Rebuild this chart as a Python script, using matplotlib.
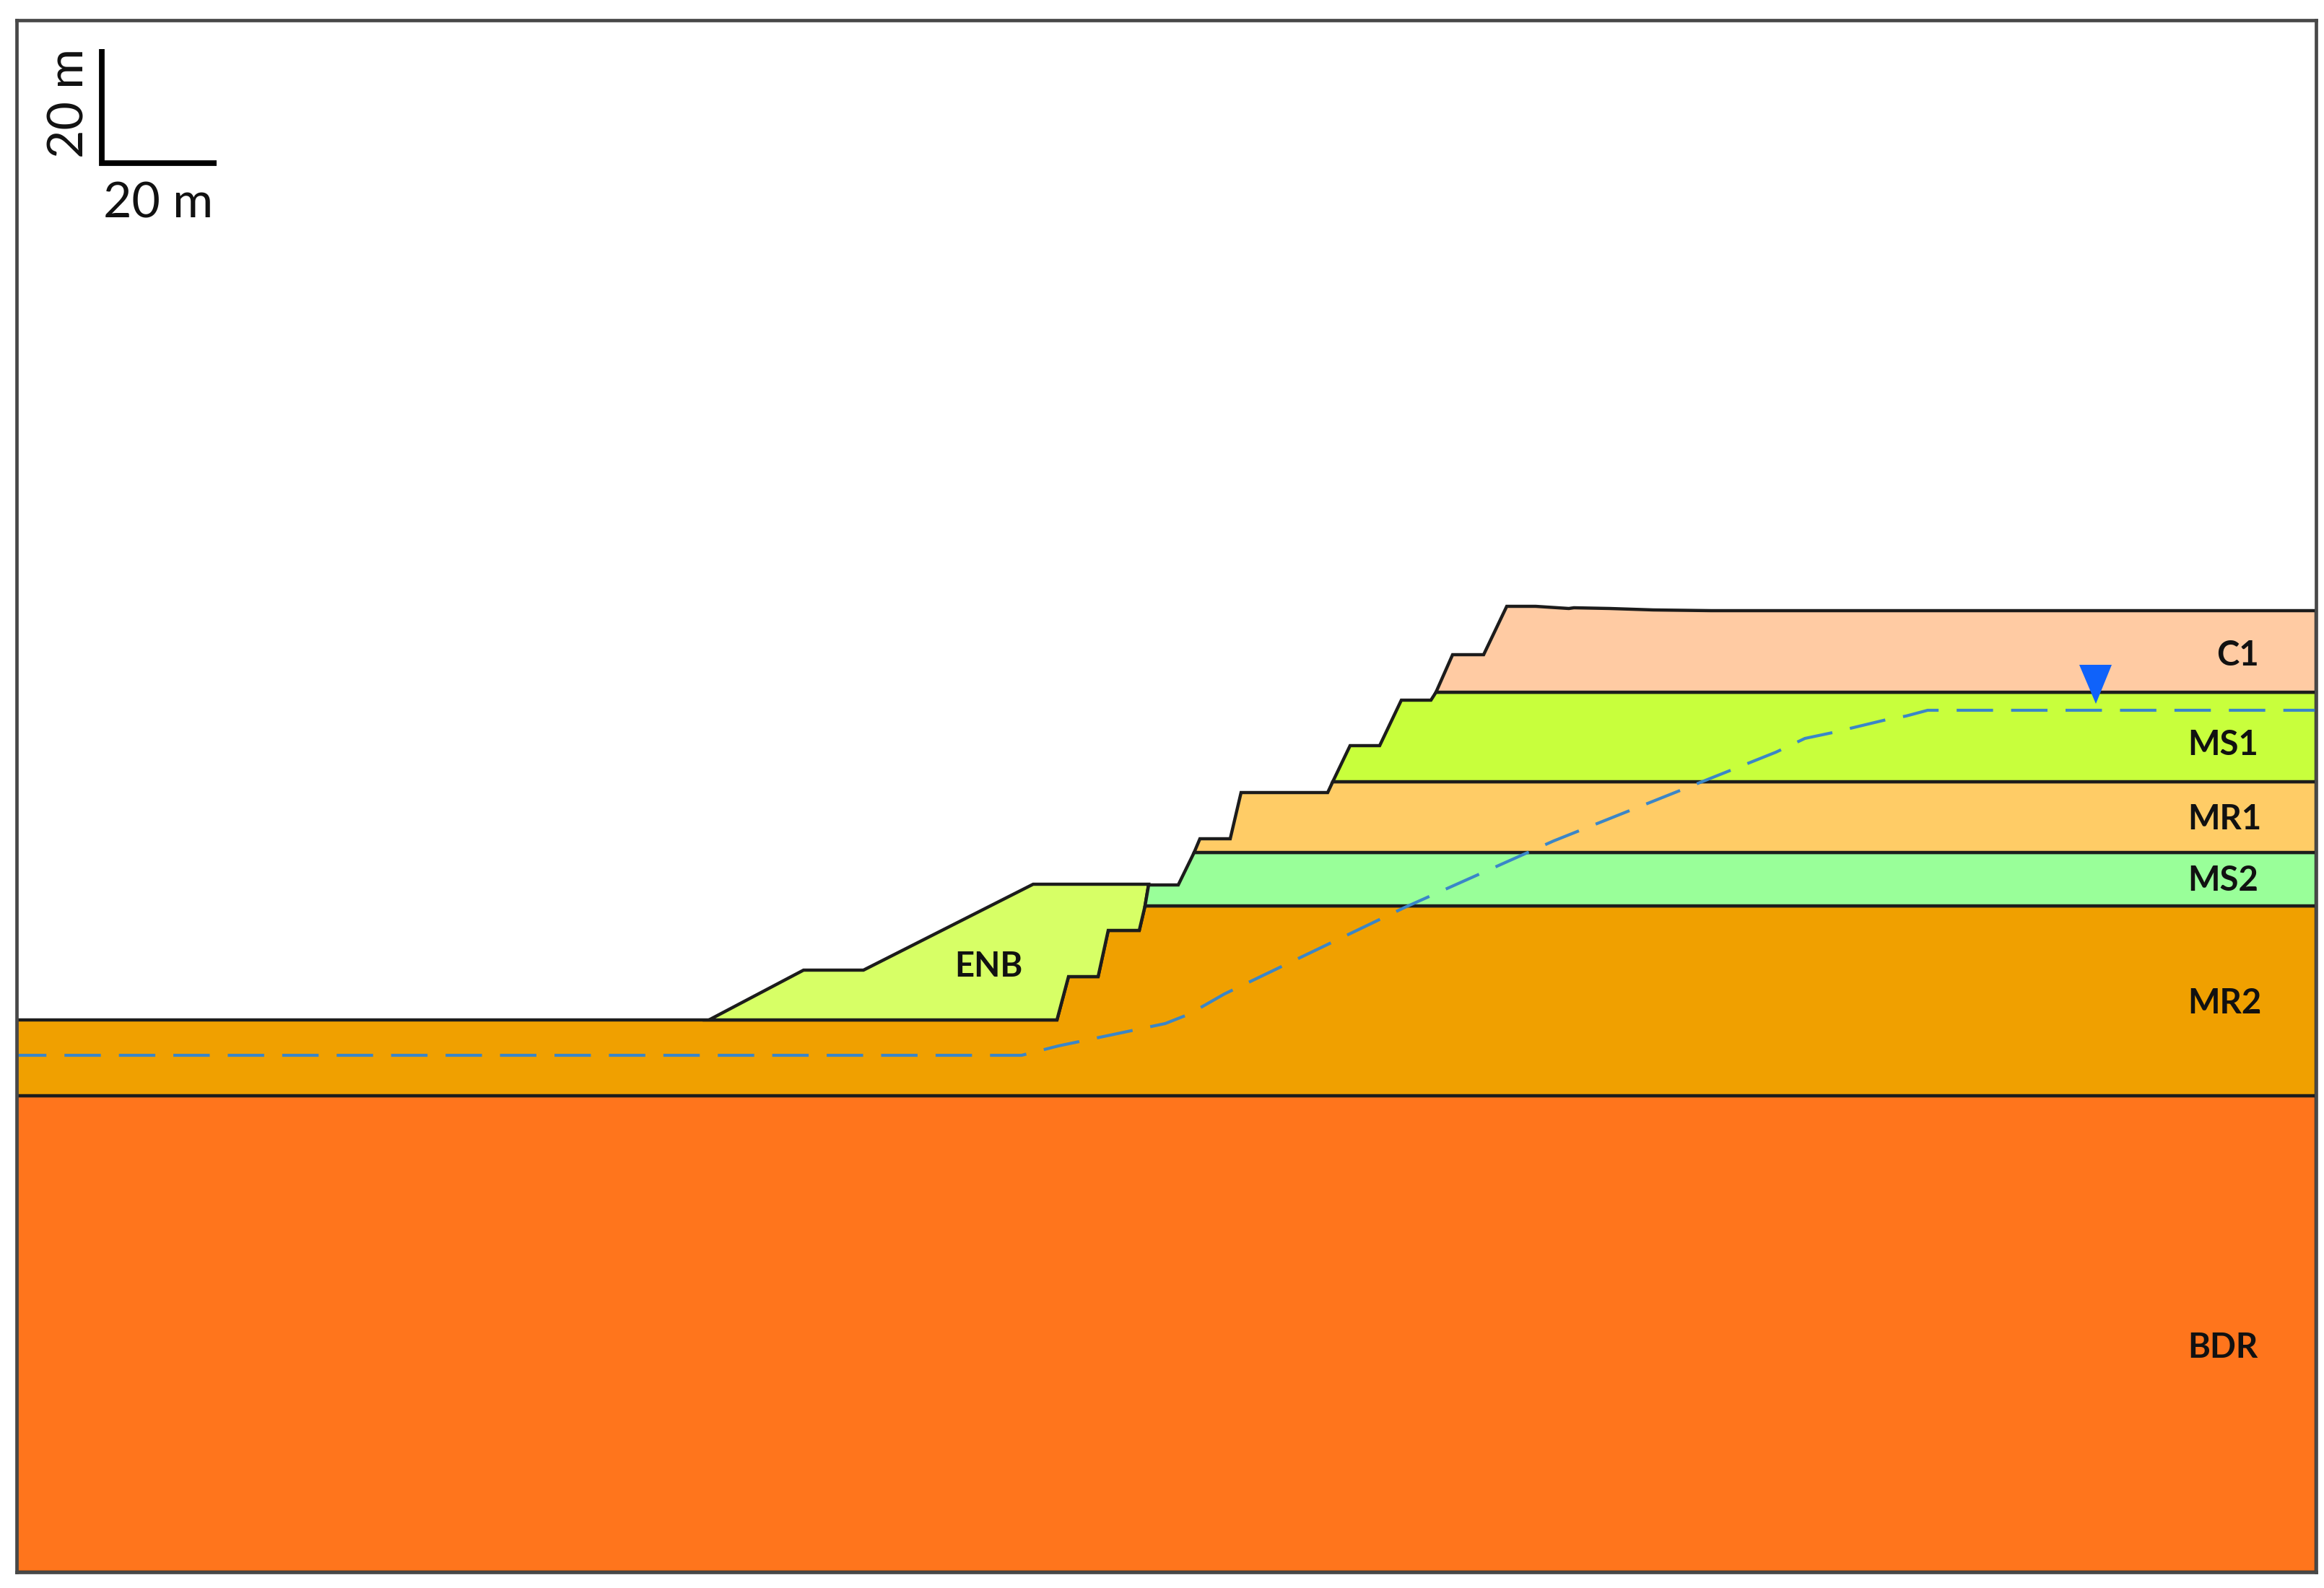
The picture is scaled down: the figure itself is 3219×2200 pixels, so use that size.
import matplotlib
matplotlib.use('Agg')
import matplotlib.pyplot as plt


# section coordinates (pixels of the original figure)
FRAME_X = [23, 3208]
FRAME_Y = [28, 2178]

BDR_X = [23, 3208, 3208, 23]
BDR_Y = [1518, 1518, 2178, 2178]

MR2_X = [23, 1464, 1480, 1521, 1535, 1578, 1586, 3208, 3208, 23]
MR2_Y = [1413, 1413, 1353, 1353, 1289, 1289, 1255, 1255, 1518, 1518]

ENB_X = [982, 1113, 1196, 1431, 1591, 1586, 1578, 1535, 1521, 1480, 1464]
ENB_Y = [1413, 1344, 1344, 1225, 1225, 1255, 1289, 1289, 1353, 1353, 1413]

MS2_X = [1586, 1591, 1632, 1654, 3208, 3208]
MS2_Y = [1255, 1226, 1226, 1181, 1181, 1255]

MR1_X = [1654, 1662, 1704, 1719, 1839, 1846, 3208, 3208]
MR1_Y = [1181, 1162, 1162, 1098, 1098, 1083, 1083, 1181]

MS1_X = [1846, 1870, 1911, 1941, 1982, 1989, 3208, 3208]
MS1_Y = [1083, 1033, 1033, 970, 970, 959, 959, 1083]

C1_X = [1989, 2012, 2055, 2087, 2127, 2173, 2180, 2230, 2290, 2370, 3208, 3208]
C1_Y = [959, 907, 907, 840, 840, 843, 842, 843, 845, 846, 846, 959]

WATER_X = [23, 1415, 1466, 1538, 1614, 1647, 1696, 1946, 2152, 2390, 2460, 2500,
           2538, 2613, 2640, 2670, 3208]
WATER_Y = [1462, 1462, 1449, 1434, 1418, 1405, 1377, 1257, 1165, 1070, 1042, 1023,
           1015, 997, 992, 984, 984]

MARKER_X = [2880, 2925, 2903]
MARKER_Y = [921, 921, 975]

SCALE_X = [141, 141, 300]
SCALE_Y = [68, 226, 226]

UNITS = ['BDR', 'MR2', 'ENB', 'MS2', 'MR1', 'MS1', 'C1']
UNIT_COLORS = ['#FF751C', '#F0A000', '#D7FF66', '#99FF99', '#FFCC66', '#C8FF3C', '#FFCBA3']
UNIT_SHAPES = [(BDR_X, BDR_Y), (MR2_X, MR2_Y), (ENB_X, ENB_Y), (MS2_X, MS2_Y),
               (MR1_X, MR1_Y), (MS1_X, MS1_Y), (C1_X, C1_Y)]

LABELS = ['C1', 'MS1', 'MR1', 'MS2', 'MR2', 'BDR']
LABEL_Y = [908, 1032, 1135, 1220, 1390, 1867]
LABEL_X = [3070, 3030, 3030, 3030, 3030, 3030]

plt.rcParams['font.family'] = ['Lato', 'DejaVu Sans']

fig = plt.figure(figsize=(32.19, 22.0), dpi=100)
ax = fig.add_axes([FRAME_X[0] / 3219, 1 - FRAME_Y[1] / 2200,
                   (FRAME_X[1] - FRAME_X[0]) / 3219, (FRAME_Y[1] - FRAME_Y[0]) / 2200])
ax.set_xlim(FRAME_X)
ax.set_ylim(FRAME_Y[1], FRAME_Y[0])
ax.set_xticks([])
ax.set_yticks([])

for spine in ax.spines.values():
    spine.set_linewidth(3.4)
    spine.set_color('#484848')

for (xs, ys), color in zip(UNIT_SHAPES, UNIT_COLORS):
    ax.fill(xs, ys, facecolor=color, edgecolor='#1c1c1c', linewidth=3.2, joinstyle='miter')

# water table, then the small triangle on top of it
ax.plot(WATER_X, WATER_Y, color='#3A86C8', linewidth=3.0,
        linestyle=(2.2, (12.1, 6.0)), dash_capstyle='butt')
ax.fill(MARKER_X, MARKER_Y, facecolor='#0F62FA', edgecolor='none', zorder=4)

ax.plot(SCALE_X, SCALE_Y, color='black', linewidth=5.6, solid_joinstyle='miter',
        solid_capstyle='butt', zorder=5)
ax.text(219, 282, '20 m', fontsize=49, ha='center', va='center', color='#111111')
ax.text(97, 143, '20 m', fontsize=49, ha='center', va='center', rotation=90, color='#111111')

for label, lx, ly in zip(LABELS, LABEL_X, LABEL_Y):
    ax.text(lx, ly, label, fontsize=34, fontweight='bold', ha='left', va='center', color='#111111')
ax.text(1369, 1339, 'ENB', fontsize=34, fontweight='bold', ha='center', va='center', color='#111111')

fig.savefig('out.png', dpi=100, facecolor='white')
